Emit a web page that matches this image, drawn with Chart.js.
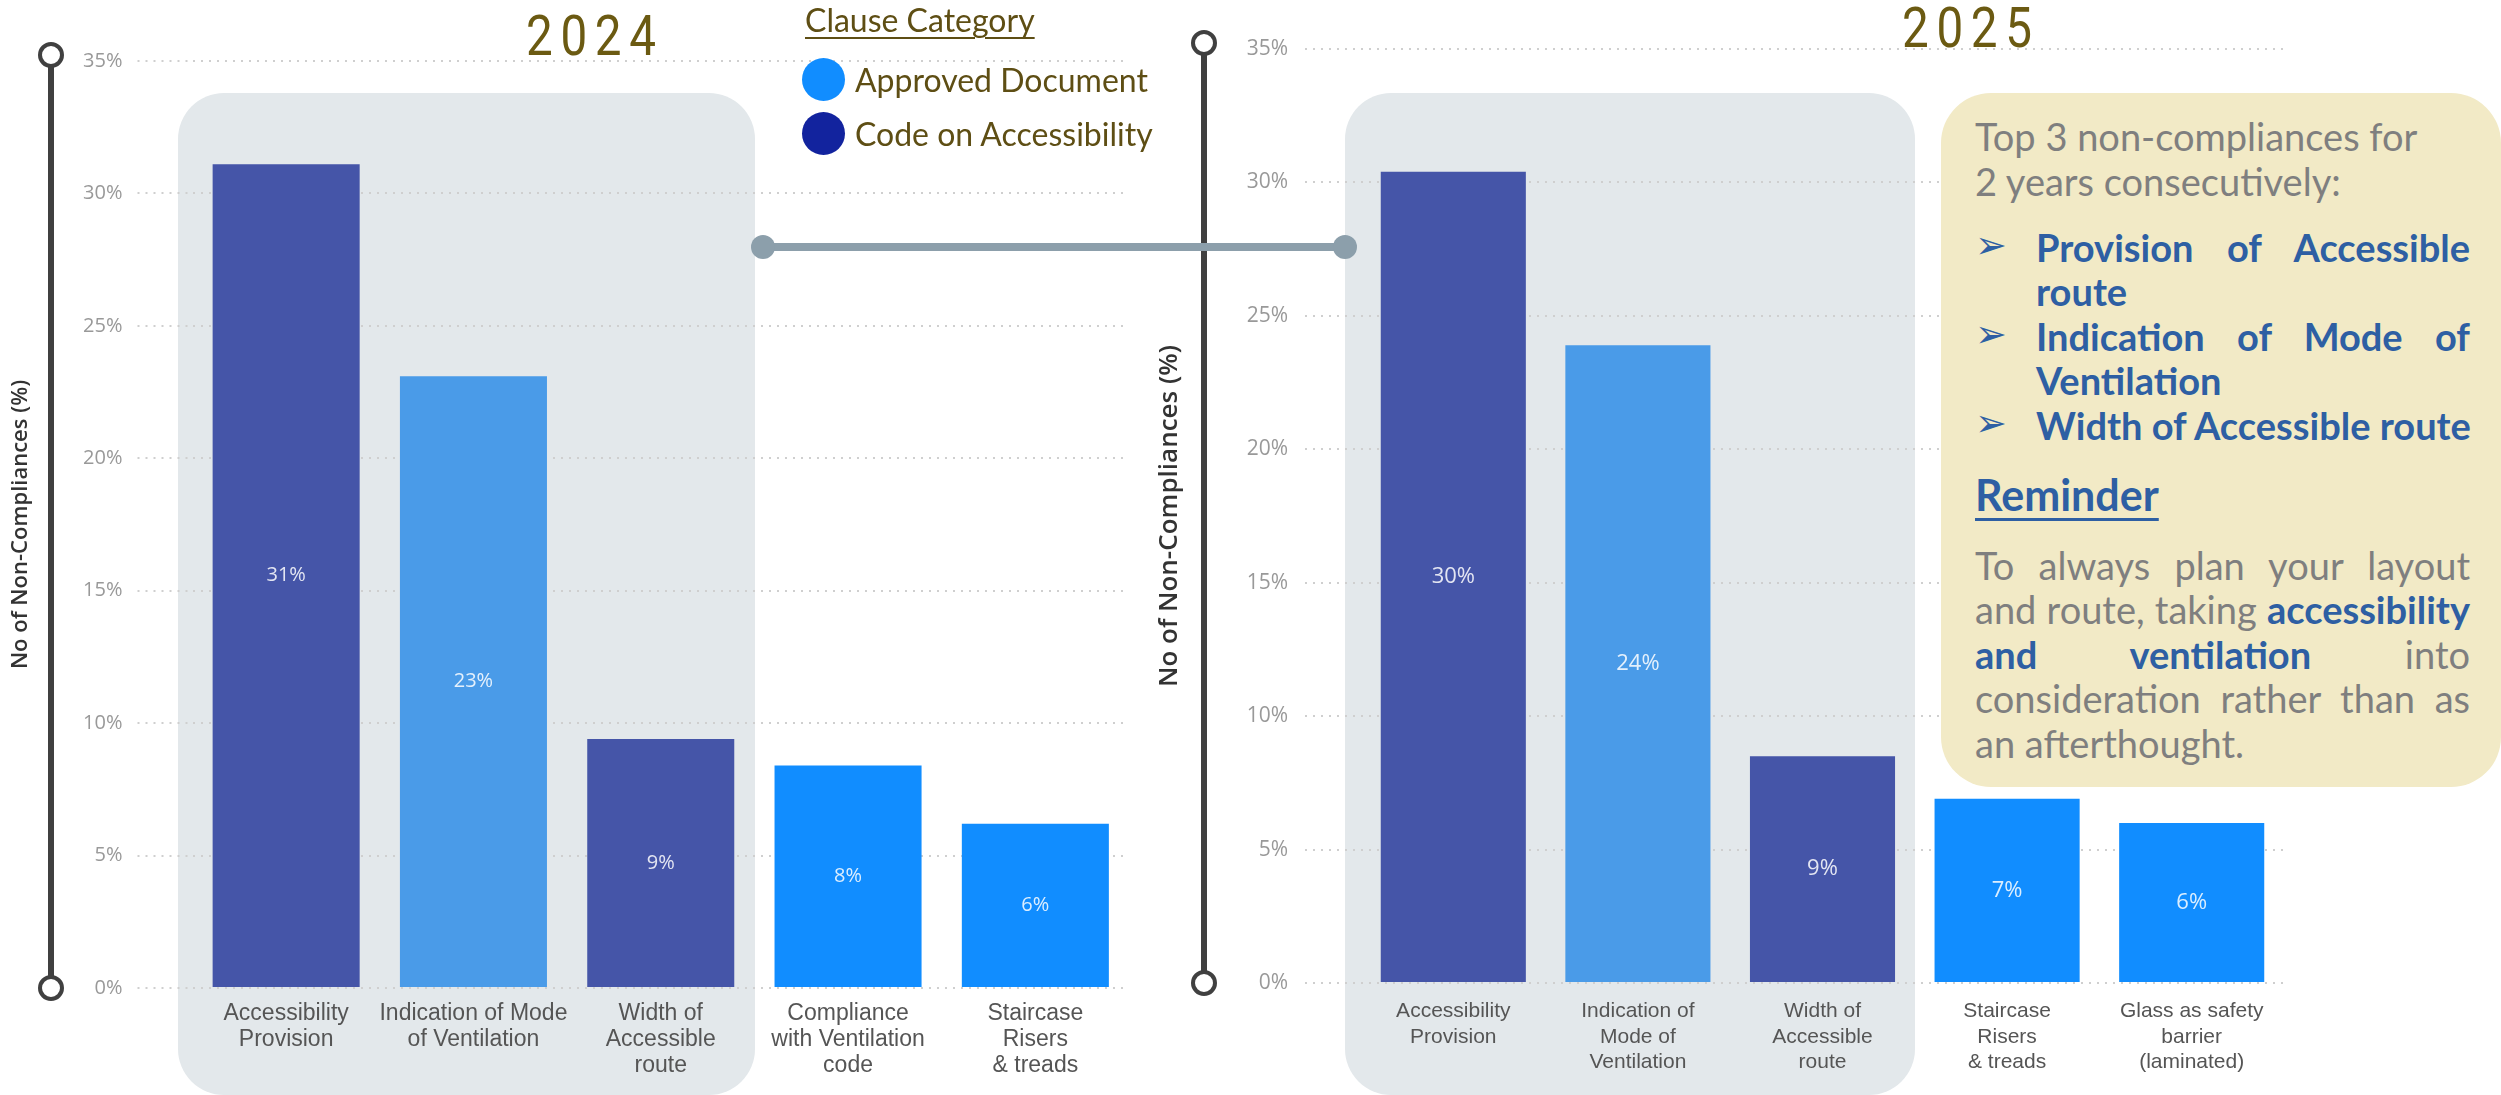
<!DOCTYPE html>
<html>
<head>
<meta charset="utf-8">
<script src="https://cdn.jsdelivr.net/npm/chart.js@4.4.1/dist/chart.umd.min.js"></script>
<style>
  html, body { margin: 0; padding: 0; width: 2501px; height: 1095px; overflow: hidden; background: #fff; }
  .panel { position: absolute; background: #E3E8EB; border-radius: 46px; }
  .wrap { position: absolute; top: 0; height: 1095px; }
  .year { position: absolute; font-family: Roboto, sans-serif; font-size: 56px; line-height: 56px;
          letter-spacing: 9px; color: #6B5A12; transform: scaleX(0.85); transform-origin: left top; }
  #legend { position: absolute; left: 0; top: 0; font-family: Lato, sans-serif; color: #5E4E14; }
  #legend .title { position: absolute; left: 805px; top: 1px; font-size: 32px; line-height: 38px; white-space: nowrap;
                   text-decoration: underline; text-decoration-thickness: 2px; text-underline-offset: 5px; }
  #legend .item { position: absolute; left: 802px; height: 44px; font-size: 32px; line-height: 44px; white-space: nowrap; }
  #legend .dot { display: inline-block; width: 43px; height: 43px; border-radius: 50%; vertical-align: top; margin-right: 10px; }
  #note { position: absolute; left: 1941px; top: 93px; width: 560px; height: 694px; box-sizing: border-box;
          background: #F2EAC6; border-radius: 50px; padding: 21px 31px 0 34px;
          font-family: Lato, sans-serif; font-size: 38px; line-height: 44.5px; color: #7F7F7F; }
  #note .ln { white-space: nowrap; }
  #note .j { text-align: justify; text-align-last: justify; }
  #note b { color: #2E5FA3; font-weight: 700; }
  #note .bul { position: relative; padding-left: 61px; color: #2E5FA3; font-weight: 700; }
  #note .arrow { position: absolute; left: 0; top: -2px; font-family: "DejaVu Sans", sans-serif; font-size: 38px; font-weight: 400; }
  #note h3 { margin: 23px 0 0 0; font-size: 43px; line-height: 50px; color: #2E5FA3; font-weight: 700;
             text-decoration: underline; text-decoration-thickness: 3px; text-underline-offset: 7px; }
  #connector { position: absolute; left: 0; top: 0; }
</style>
</head>
<body>
<div class="panel" style="left:178px; top:93px; width:577px; height:1002px;"></div>
<div class="panel" style="left:1345px; top:93px; width:570px; height:1002px;"></div>

<div class="wrap" style="left:0; width:1140px;"><canvas id="chart2024" width="1140" height="1095"></canvas></div>
<div class="wrap" style="left:1140px; width:1160px;"><canvas id="chart2025" width="1160" height="1095"></canvas></div>

<div class="year" style="left:526px; top:8px;">2024</div>
<div class="year" style="left:1902px; top:0px;">2025</div>

<div id="legend"></div>

<svg id="connector" width="2501" height="1095">
  <line x1="763" y1="247" x2="1345" y2="247" stroke="#8C9FAB" stroke-width="8"/>
  <circle cx="763" cy="247" r="12" fill="#8C9FAB"/>
  <circle cx="1345" cy="247" r="12" fill="#8C9FAB"/>
</svg>

<div id="note">
  <div class="ln">Top 3 non-compliances for</div>
  <div class="ln">2 years consecutively:</div>
  <div class="bul" style="margin-top:21.5px;"><span class="arrow">&#10146;</span><div class="ln j">Provision of Accessible</div><div class="ln">route</div></div>
  <div class="bul"><span class="arrow">&#10146;</span><div class="ln j">Indication of Mode of</div><div class="ln">Ventilation</div></div>
  <div class="bul"><span class="arrow">&#10146;</span><div class="ln">Width of Accessible route</div></div>
  <h3>Reminder</h3>
  <div class="ln j" style="margin-top:22.5px;">To always plan your layout</div>
  <div class="ln j">and route, taking <b>accessibility</b></div>
  <div class="ln j"><b>and ventilation</b> into</div>
  <div class="ln j">consideration rather than as</div>
  <div class="ln">an afterthought.</div>
</div>

<script>
// 2024 survey
var labels2024 = [['Accessibility', 'Provision'], ['Indication of Mode', 'of Ventilation'],
                  ['Width of', 'Accessible', 'route'], ['Compliance', 'with Ventilation', 'code'],
                  ['Staircase', 'Risers', '& treads']];
var values2024 = [31.1, 23.1, 9.4, 8.4, 6.2];
var clause2024 = ['Code on Accessibility', 'Approved Document', 'Code on Accessibility',
                  'Approved Document', 'Approved Document'];

// 2025 survey
var labels2025 = [['Accessibility', 'Provision'], ['Indication of', 'Mode of', 'Ventilation'],
                  ['Width of', 'Accessible', 'route'], ['Staircase', 'Risers', '& treads'],
                  ['Glass as safety', 'barrier', '(laminated)']];
var values2025 = [30.4, 23.9, 8.5, 6.9, 6.0];
var clause2025 = ['Code on Accessibility', 'Approved Document', 'Code on Accessibility',
                  'Approved Document', 'Approved Document'];

var yTicks = [0, 5, 10, 15, 20, 25, 30, 35];
var clauses = ['Approved Document', 'Code on Accessibility'];

var clauseColours = { 'Approved Document': '#118DFF', 'Code on Accessibility': '#12239E' };
// the top 3 bars sit under the grey panel, so they look washed out
var panelColours = { 'Approved Document': '#4A9BE8', 'Code on Accessibility': '#4555A8' };
var topN = 3;

// legend
var legend = document.getElementById('legend');
var lgTitle = document.createElement('div');
lgTitle.className = 'title';
lgTitle.textContent = 'Clause Category';
legend.appendChild(lgTitle);
clauses.forEach(function(c, i){
    var item = document.createElement('div');
    item.className = 'item';
    item.style.top = (58 + i * 54) + 'px';
    var dot = document.createElement('span');
    dot.className = 'dot';
    dot.style.background = clauseColours[c];
    item.appendChild(dot);
    item.appendChild(document.createTextNode(c));
    legend.appendChild(item);
});

// value printed in the middle of each bar
var barValueLabels = {
    id: 'barValueLabels',
    afterDatasetsDraw: function(chart, args, o){
        var ctx = chart.ctx;
        var meta = chart.getDatasetMeta(0);
        var data = chart.data.datasets[0].data;
        ctx.save();
        ctx.font = o.size + 'px "Open Sans", sans-serif';
        ctx.fillStyle = 'rgba(255,255,255,0.85)';
        ctx.textAlign = 'center';
        ctx.textBaseline = 'middle';
        meta.data.forEach(function(bar, i){
            ctx.fillText(Math.round(data[i]) + '%', bar.x, (bar.y + bar.base) / 2);
        });
        ctx.restore();
    }
};

// the dark stem with rings left of the y axis
var axisStem = {
    id: 'axisStem',
    afterDraw: function(chart, args, o){
        var ctx = chart.ctx, y = chart.scales.y;
        var top = y.getPixelForValue(y.max) - 6;
        var bottom = y.getPixelForValue(y.min);
        ctx.save();
        ctx.strokeStyle = '#404040';
        ctx.lineWidth = 6;
        ctx.beginPath();
        ctx.moveTo(o.x, top);
        ctx.lineTo(o.x, bottom);
        ctx.stroke();
        ctx.lineWidth = 4;
        ctx.fillStyle = '#fff';
        [top, bottom].forEach(function(cy){
            ctx.beginPath();
            ctx.arc(o.x, cy, 11, 0, Math.PI * 2);
            ctx.fill();
            ctx.stroke();
        });
        ctx.restore();
    }
};

function buildChart(id, labels, values, clauseList, look){
    var colours = clauseList.map(function(c, i){
        return i < topN ? panelColours[c] : clauseColours[c];
    });
    return new Chart(document.getElementById(id), {
        type: 'bar',
        data: {
            labels: labels,
            datasets: [{
                data: values,
                backgroundColor: colours,
                borderWidth: 0,
                categoryPercentage: 1,
                barPercentage: look.bar
            }]
        },
        options: {
            responsive: false,
            animation: false,
            layout: { padding: { top: look.top, right: look.right, left: 0, bottom: 0 } },
            plugins: {
                legend: { display: false },
                tooltip: { enabled: false },
                axisStem: { x: look.stemX },
                barValueLabels: { size: look.valueSize }
            },
            scales: {
                x: {
                    grid: { display: false },
                    border: { display: false },
                    ticks: {
                        color: '#555',
                        font: { family: '"Liberation Sans", Arial, sans-serif', size: look.catSize, lineHeight: look.catLine },
                        padding: look.catPad,
                        maxRotation: 0,
                        autoSkip: false
                    },
                    afterFit: function(s){ s.height = look.xHeight; }
                },
                y: {
                    min: yTicks[0],
                    max: yTicks[yTicks.length - 1],
                    ticks: {
                        stepSize: yTicks[1] - yTicks[0],
                        color: '#999',
                        font: { family: '"Open Sans", sans-serif', size: look.tickSize },
                        padding: look.tickPad,
                        callback: function(v){ return v + '%'; }
                    },
                    grid: {
                        color: '#cfcfcf',
                        lineWidth: 2,
                        tickLength: look.tickLen,
                        tickBorderDash: [2, 6],
                        tickColor: '#cfcfcf'
                    },
                    border: { display: false, dash: [2, 6] },
                    title: {
                        display: true,
                        text: 'No of Non-Compliances (%)',
                        color: '#333',
                        font: { family: '"Open Sans", sans-serif', size: look.titleSize, weight: '600' },
                        padding: { top: look.titlePad, bottom: 0 }
                    },
                    afterFit: function(s){ s.width = look.yWidth; }
                }
            }
        },
        plugins: [barValueLabels, axisStem]
    });
}

buildChart('chart2024', labels2024, values2024, clause2024, {
    bar: 0.785, top: 61, right: 11, xHeight: 107, yWidth: 192.5, tickLen: 55, tickPad: 15, tickSize: 20,
    titleSize: 22, titlePad: 8, stemX: 51, valueSize: 20, catSize: 23, catLine: 1.15, catPad: 4
});

buildChart('chart2025', labels2025, values2025, clause2025, {
    bar: 0.786, top: 49, right: 16, xHeight: 112, yWidth: 221, tickLen: 56, tickPad: 17, tickSize: 21,
    titleSize: 26, titlePad: 14, stemX: 64, valueSize: 22, catSize: 21, catLine: 1.2, catPad: 8
});
</script>
</body>
</html>
